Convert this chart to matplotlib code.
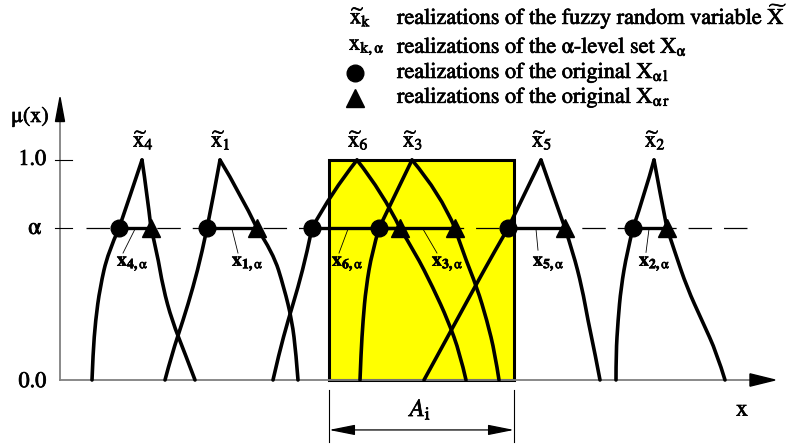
import numpy as np
import matplotlib.pyplot as plt
import matplotlib.patheffects as pe
from matplotlib.path import Path
from matplotlib.patches import Rectangle, Polygon, FancyArrowPatch, PathPatch

plt.rcParams['font.family'] = 'STIXGeneral'
plt.rcParams['mathtext.fontset'] = 'stix'
plt.rcParams['lines.scale_dashes'] = False

ALPHA = 0.69

# membership levels at which each branch was sampled
mu_levels = [0.0, 0.12, 0.27, 0.42, 0.58, ALPHA, 0.85, 1.0]

# realizations x~_k, in drawing order along the x axis
ids = [4, 1, 6, 3, 5, 2]
left_branch = [
    [92, 93, 95.5, 100, 108, 119, 131, 142],
    [165, 172, 183, 193, 202, 207, 214, 220],
    [273, 279, 288, 298, 307, 312, 331, 357],
    [360, 361, 363, 366, 372, 379, 396, 412],
    [424, 438.5, 456.5, 474.5, 494, 508, 525, 541],
    [616, 616, 618, 621, 627, 633, 645, 654],
]
right_branch = [
    [195, 185, 172, 163, 157, 151, 147, 142],
    [298, 296, 292, 284, 273, 257, 240, 220],
    [466, 460, 448, 433, 415, 400, 383, 357],
    [499, 495, 487, 477, 463, 455, 440, 412],
    [600, 595, 588, 582, 573, 565, 552.5, 541],
    [725, 717, 702, 687, 675, 667, 660, 654],
]

# region A_i
a_left, a_right = 329, 514

TXT = dict(path_effects=[pe.withStroke(linewidth=0.5, foreground='black')])


def smooth_path(xs, ys):
    """Quadratic B-spline style path through the sampled points (ends exact)."""
    pts = np.column_stack([xs, ys])
    if len(pts) < 3:
        return Path(pts)
    verts = [pts[0]]
    codes = [Path.MOVETO]
    for i in range(1, len(pts) - 1):
        end = pts[i + 1] if i == len(pts) - 2 else (pts[i] + pts[i + 1]) / 2
        verts += [pts[i], end]
        codes += [Path.CURVE3, Path.CURVE3]
    return Path(verts, codes)


fig = plt.figure(figsize=(7.89, 4.46), dpi=100)
ax = fig.add_axes([0, 0, 1, 1])
ax.set_xlim(0, 789)
ax.set_ylim(-66 / 220, 380 / 220)
ax.axis('off')

ia = mu_levels.index(ALPHA)

# yellow region
ax.add_patch(Rectangle((a_left, 0), a_right - a_left, 1.0, facecolor='#ffff00',
                       edgecolor='black', lw=2.2, zorder=1))

# axes with arrow heads
ax.plot([60, 752], [0, 0], color='#808080', lw=1.3, zorder=2)
ax.plot([60, 60], [0, 1.18], color='#808080', lw=1.3, zorder=2)
ax.add_patch(Polygon([[750, 0.028], [775, 0], [750, -0.028]], closed=True,
                     color='black', zorder=3))
ax.add_patch(Polygon([[55.5, 1.175], [60, 1.285], [64.5, 1.175]], closed=True,
                     color='black', zorder=3))

# tick marks and labels on the mu axis
for level in [1.0, ALPHA]:
    ax.plot([55, 72], [level, level], color='black', lw=0.8, zorder=2)
ax.text(46, 1.0, '1.0', ha='right', va='center', fontsize=16, **TXT)
ax.text(41, ALPHA, 'α', ha='right', va='center', fontsize=17, **TXT)
ax.text(46, -0.01, '0.0', ha='right', va='center', fontsize=16, **TXT)
ax.text(30, 1.195, 'μ(x)', ha='center', va='center', fontsize=16, **TXT)
ax.text(742, -0.136, 'x', ha='center', va='center', fontsize=17, **TXT)

# alpha level line
ax.plot([86.5, 749], [ALPHA, ALPHA], color='black', lw=0.9,
        linestyle=(0, (16.9, 8.6)), zorder=3)

# membership functions and their alpha-level sets
for k, lb, rb in zip(ids, left_branch, right_branch):
    for branch in (lb, rb):
        for seg in (slice(0, ia + 1), slice(ia, None)):
            ax.add_patch(PathPatch(smooth_path(branch[seg], mu_levels[seg]),
                                   facecolor='none', edgecolor='black', lw=2.6,
                                   capstyle='round', joinstyle='round', zorder=4))
    ax.plot([lb[ia], rb[ia]], [ALPHA, ALPHA], color='black', lw=2.4, zorder=4)
    ax.plot(lb[ia], ALPHA, 'o', color='black', ms=12, zorder=5)
    ax.plot(rb[ia], ALPHA, '^', color='black', ms=13, zorder=5)
    ax.text(lb[-1] - 9, 1.09, r'$\widetilde{\mathrm{x}}_{%d}$' % k, ha='left',
            va='center', fontsize=16, **TXT)

# labels of the alpha-level sets
set_labels = [
    (4, (135, 0.686), (123, 0.577), 117),
    (1, (232, 0.686), (238, 0.577), 232),
    (6, (348, 0.686), (339, 0.577), 332),
    (3, (423, 0.686), (437, 0.577), 432),
    (5, (536, 0.686), (538, 0.59), 533),
    (2, (649, 0.686), (646, 0.58), 639),
]
for k, p0, p1, tx in set_labels:
    ax.plot([p0[0], p1[0]], [p0[1], p1[1]], color='black', lw=0.6, zorder=4)
    ax.text(tx, 0.527, r'$\mathbf{x}_{\mathbf{%d,}\mathrm{\alpha}}$' % k,
            ha='left', va='center', fontsize=14, zorder=6, **TXT)

# width of A_i
for xv in [a_left, a_right]:
    ax.plot([xv, xv], [-0.045, -0.282], color='black', lw=0.8)
ax.add_patch(FancyArrowPatch((a_left, -0.227), (a_right, -0.227),
                             arrowstyle='<|-|>,head_length=16,head_width=3.2',
                             mutation_scale=1, shrinkA=0, shrinkB=0,
                             color='black', lw=0.9))
ax.text(421, -0.136, r'$A_{\mathrm{i}}$', ha='center', va='center', fontsize=18,
        **TXT)

# legend
ax.text(350, 1.65, r'$\widetilde{\mathrm{x}}_{\mathrm{k}}$', ha='left',
        va='center', fontsize=16, **TXT)
ax.text(349, 1.514, r'$\mathrm{x}_{\mathrm{k},\mathrm{\alpha}}$', ha='left',
        va='center', fontsize=16, **TXT)
ax.plot(355, 1.395, 'o', color='black', ms=12)
ax.plot(355, 1.282, '^', color='black', ms=13)
legend_text = [
    r'realizations of the fuzzy random variable $\widetilde{\mathrm{X}}$',
    r'realizations of the α-level set $\mathrm{X}_{\mathrm{\alpha}}$',
    r'realizations of the original $\mathrm{X}_{\mathrm{\alpha\,l}}$',
    r'realizations of the original $\mathrm{X}_{\mathrm{\alpha\,r}}$',
]
for y, s in zip([1.65, 1.514, 1.395, 1.282], legend_text):
    ax.text(397, y, s, ha='left', va='center', fontsize=16, **TXT)

fig.savefig('out.png', dpi=100)
